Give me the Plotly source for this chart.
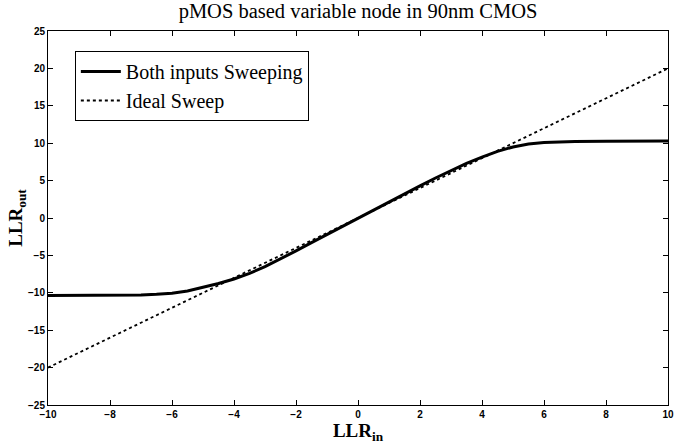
import plotly.graph_objects as go

# Data
llr_in = [-10, -9, -8, -7, -6.5, -6, -5.5, -5, -4.5, -4, -3.5, -3, -2.5, -2, -1.5, -1, -0.5,
          0, 0.5, 1, 1.5, 2, 2.5, 3, 3.5, 4, 4.5, 5, 5.5, 6, 6.5, 7, 8, 9, 10]
llr_out_both = [-10.35, -10.35, -10.35, -10.3, -10.2, -10.05, -9.75, -9.3, -8.75, -8.15, -7.4,
                -6.5, -5.5, -4.4, -3.3, -2.2, -1.1, 0, 1.1, 2.2, 3.3, 4.3, 5.35, 6.35, 7.3,
                8.15, 8.9, 9.5, 9.9, 10.1, 10.18, 10.22, 10.25, 10.28, 10.3]
ideal_x = [-10, 10]
ideal_y = [-20, 20]

x_ticks = [-10, -8, -6, -4, -2, 0, 2, 4, 6, 8, 10]
y_ticks = [-25, -20, -15, -10, -5, 0, 5, 10, 15, 20, 25]

fig = go.Figure()
fig.add_trace(go.Scatter(x=llr_in, y=llr_out_both, mode="lines", name="Both inputs Sweeping",
                         line=dict(color="black", width=3)))
fig.add_trace(go.Scatter(x=ideal_x, y=ideal_y, mode="lines", name="Ideal Sweep",
                         line=dict(color="black", width=1.8, dash="dot")))

tickfont = dict(family="Liberation Sans", size=10, color="black", weight="bold")
axis_common = dict(showgrid=False, zeroline=False, showline=True, linecolor="black", linewidth=1,
                   mirror="ticks", ticks="inside", ticklen=5, tickcolor="black", tickwidth=1,
                   tickfont=tickfont, automargin=False, ticklabeloverflow="allow")

fig.update_layout(
    width=675, height=447,
    margin=dict(l=48, r=7, t=31, b=42),
    plot_bgcolor="white", paper_bgcolor="white",
    title=dict(text="pMOS based variable node in 90nm CMOS", xref="paper", x=0.5, xanchor="center",
               y=0.975, yanchor="middle",
               font=dict(family="Liberation Serif", size=20.5, color="black")),
    xaxis=dict(range=[-10, 10], tickvals=x_ticks, ticktext=[str(v).replace("-", "\u2212") for v in x_ticks],
               title=dict(text="LLR<sub>in</sub>", standoff=2,
                          font=dict(family="Liberation Serif", size=19, color="black", weight="bold")),
               **axis_common),
    yaxis=dict(range=[-25, 25], tickvals=y_ticks, ticktext=[str(v).replace("-", "\u2212") for v in y_ticks],
               title=dict(text="LLR<sub>out</sub>", standoff=0,
                          font=dict(family="Liberation Serif", size=19, color="black", weight="bold")),
               **axis_common),
    legend=dict(x=0.0433, y=0.9465, xanchor="left", yanchor="top",
                bgcolor="white", bordercolor="black", borderwidth=1,
                font=dict(family="Liberation Serif", size=20, color="black"),
                itemwidth=40, tracegroupgap=0),
    showlegend=True,
)

fig.write_html("out.html", config={"displayModeBar": False},
               post_script="document.body.style.margin='0';document.body.style.padding='0';")
